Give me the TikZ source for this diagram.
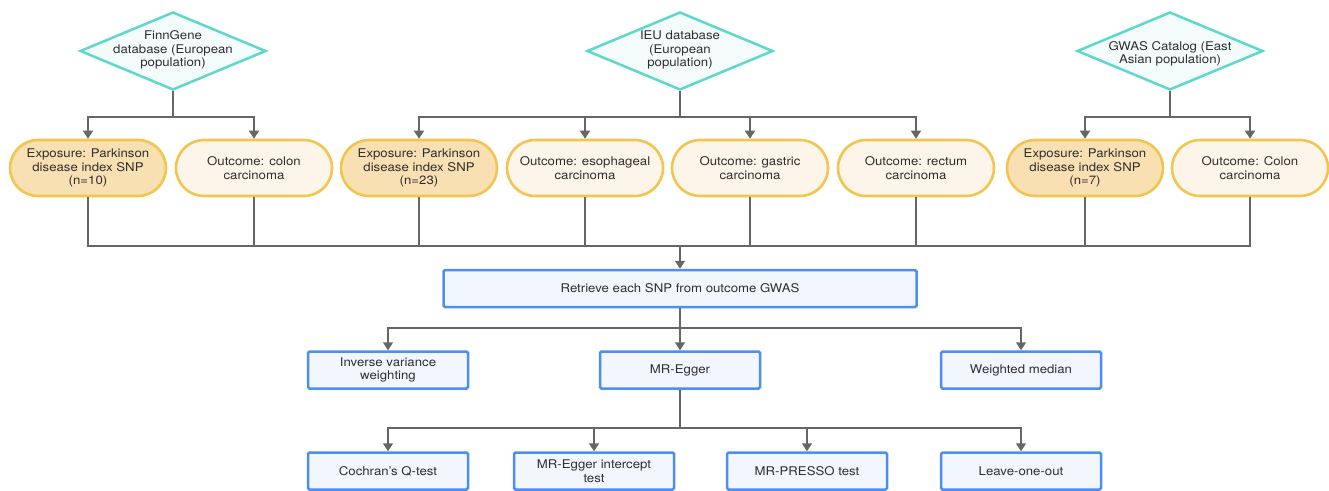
\documentclass[tikz,border=0pt]{standalone}
\usepackage{fontspec}
\setmainfont{TeX Gyre Heros}[FakeStretch=1.1]
\usetikzlibrary{arrows.meta,shapes.geometric}
\definecolor{dstroke}{HTML}{5ED8CD}
\definecolor{dfill}{HTML}{F3FBFB}
\definecolor{ystroke}{HTML}{F2C54F}
\definecolor{expfill}{HTML}{F9E0B3}
\definecolor{outfill}{HTML}{FDF5E9}
\definecolor{bstroke}{HTML}{4D8FF0}
\definecolor{bfill}{HTML}{F2F6FE}
\definecolor{lgray}{HTML}{666666}
\definecolor{tgray}{HTML}{2E2E2E}
\tikzset{
  every node/.style={font=\fontsize{12}{13.5}\selectfont, text=tgray, align=center},
  dbox/.style={shape=diamond, draw=dstroke, fill=dfill, line width=2.5pt, inner sep=0pt, minimum width=186pt, minimum height=78pt},
  dtext/.style={inner sep=0pt},
  expbox/.style={rectangle, rounded corners=28pt, draw=ystroke, fill=expfill, line width=2.6pt, minimum width=156pt, minimum height=56pt, inner sep=0pt},
  outbox/.style={expbox, fill=outfill},
  mbox/.style={rectangle, rounded corners=1.5pt, draw=bstroke, fill=bfill, line width=2.5pt, minimum width=160pt, minimum height=37pt, inner sep=0pt},
  conn/.style={draw=lgray, line width=1.6pt},
  arr/.style={conn, -{Triangle[length=8pt,width=10pt]}}
}
\begin{document}
\begin{tikzpicture}[x=1pt,y=-1pt]
\useasboundingbox (0,0) rectangle (1329,490);
% diamonds
\node[dbox] (d1) at (173,51) {};
\node[dtext] (d1t) at (173,50) {FinnGene\\database (European\\population)};
\node[dbox] (d2) at (680,51) {};
\node[dtext] (d2t) at (680,50) {IEU database\\(European\\population)};
\node[dbox] (d3) at (1170,51) {};
\node[dtext] (d3t) at (1170,54) {GWAS Catalog (East\\Asian population)};
% pills
\node[expbox] (e1) at (88,168) {Exposure: Parkinson\\disease index SNP\\(n=10)};
\node[outbox] (o1) at (254,168) {Outcome: colon\\carcinoma};
\node[expbox] (e2) at (419,168) {Exposure: Parkinson\\disease index SNP\\(n=23)};
\node[outbox] (o2) at (585,168) {Outcome: esophageal\\carcinoma};
\node[outbox] (o3) at (750,168) {Outcome: gastric\\carcinoma};
\node[outbox] (o4) at (916,168) {Outcome: rectum\\carcinoma};
\node[expbox] (e3) at (1085,168) {Exposure: Parkinson\\disease index SNP\\(n=7)};
\node[outbox] (o5) at (1250,168) {Outcome: Colon\\carcinoma};
% retrieve
\node[mbox, minimum width=473pt] (ret) at (680,288.5) {Retrieve each SNP from outcome GWAS};
% methods
\node[mbox] (ivw) at (388,370) {Inverse variance\\weighting};
\node[mbox] (egg) at (680,370) {MR-Egger};
\node[mbox] (wm) at (1021,370) {Weighted median};
% tests
\node[mbox] (cq) at (388,471) {Cochran’s Q-test};
\node[mbox] (ei) at (594,471) {MR-Egger intercept\\test};
\node[mbox] (mp) at (807,471) {MR-PRESSO test};
\node[mbox] (loo) at (1021,471) {Leave-one-out};
\coordinate (jb) at (680,246);
% top connectors
\foreach \s/\t in {d1/e1,d1/o1,d2/e2,d2/o2,d2/o3,d2/o4,d3/e3,d3/o5}{
  \draw[arr] (\s.south) |- ([yshift=22pt]\t.north) -- (\t.north);
}
\foreach \s in {e1,o1,e2,o2,o3,o4,e3,o5}{
  \draw[conn] (\s.south) |- (jb);
}
\draw[arr] (jb) -- (ret.north);
\draw[arr] (ret.south) |- ([yshift=22pt]ivw.north) -- (ivw.north);
\draw[arr] (ret.south) |- ([yshift=22pt]wm.north) -- (wm.north);
\draw[arr] (ret.south) -- (egg.north);
\foreach \t in {cq,ei,mp,loo}{
  \draw[arr] (egg.south) |- ([yshift=23pt]\t.north) -- (\t.north);
}
\end{tikzpicture}
\end{document}
